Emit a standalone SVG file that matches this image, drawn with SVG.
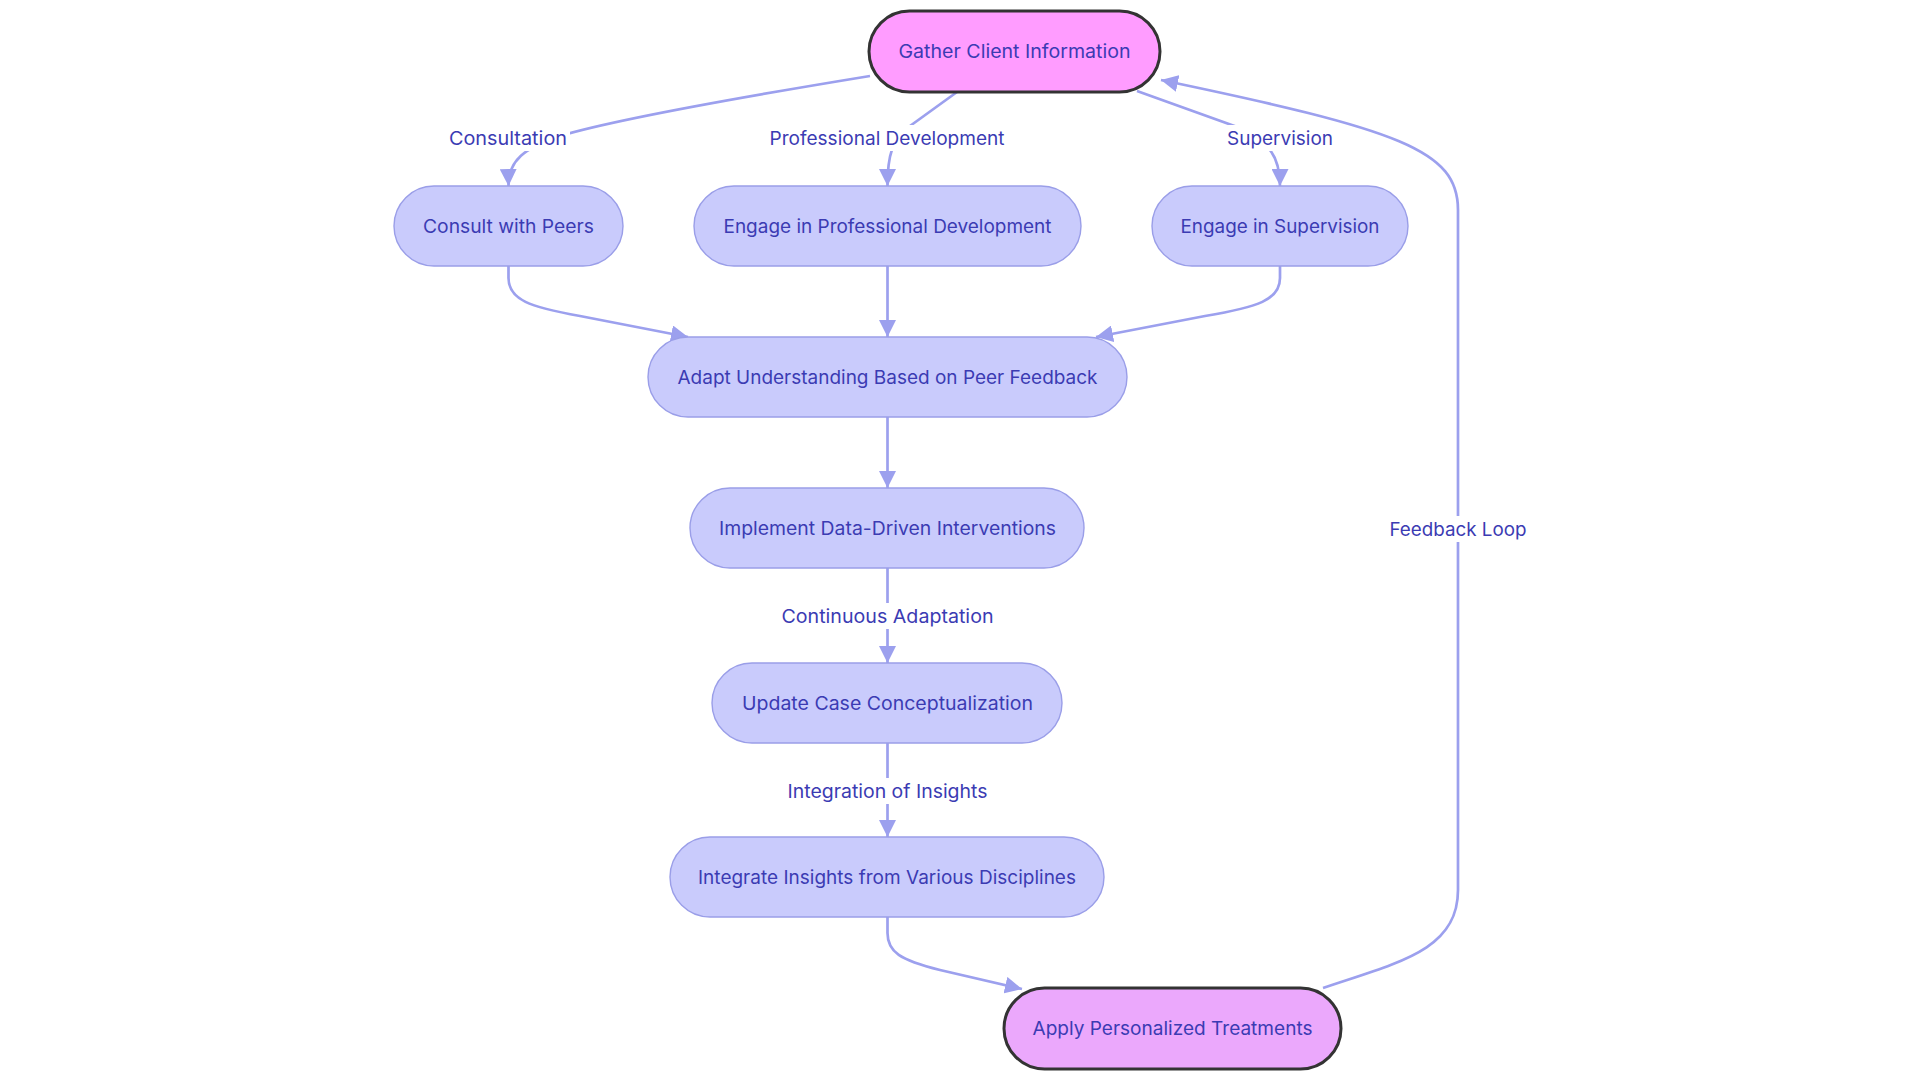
<svg xmlns="http://www.w3.org/2000/svg" width="1920" height="1080" viewBox="0 0 1920 1080">
<style>
.node rect{fill:#C9CBFC;stroke:#9A9EE8;stroke-width:1.4}
.node.start rect{fill:#FF9CFF;stroke:#333333;stroke-width:3}
.node.end rect{fill:#EBA8FC;stroke:#333333;stroke-width:3}
text{font-family:Inter,"Noto Sans","Liberation Sans",sans-serif;font-size:18.5px;fill:#3B3BB3;text-anchor:middle}
.edge{fill:none;stroke:#9CA0EE;stroke-width:2.7}
.lbl rect{fill:#FFFFFF}
</style>
<defs>
<marker id="arrow" viewBox="0 0 10 10" refX="10" refY="5" markerUnits="userSpaceOnUse" markerWidth="17" markerHeight="17" orient="auto">
<path d="M0,0 L10,5 L0,10 z" fill="#9CA0EE"/>
</marker>
</defs>
<rect width="1920" height="1080" fill="#FFFFFF"/>
<g id="connectors">
<path class="edge" d="M870,76 C760,94 620,118 560,136 C525,148 508,160 508.5,186" marker-end="url(#arrow)"/>
<path class="edge" d="M957,92 L910,126 C892,140 887.5,155 887.5,186" marker-end="url(#arrow)"/>
<path class="edge" d="M1137,91 L1240,128 C1268,142 1280,155 1280,186" marker-end="url(#arrow)"/>
<path class="edge" d="M508.5,266 L508.5,278 C508.5,300 530,307 580,316 L688,337" marker-end="url(#arrow)"/>
<path class="edge" d="M887.5,266 L887.5,337" marker-end="url(#arrow)"/>
<path class="edge" d="M1280,266 L1280,278 C1280,300 1258,307 1205,316 L1096,337" marker-end="url(#arrow)"/>
<path class="edge" d="M887.5,417 L887.5,488" marker-end="url(#arrow)"/>
<path class="edge" d="M887.5,568 L887.5,663" marker-end="url(#arrow)"/>
<path class="edge" d="M887.5,743 L887.5,837" marker-end="url(#arrow)"/>
<path class="edge" d="M887.5,917 L887.5,933 C887.5,952 900,960 940,970 L1022,989" marker-end="url(#arrow)"/>
<path class="edge" d="M1323,988 C1400,962 1458,950 1458,890 L1458,210 C1458,150 1400,130 1161,80" marker-end="url(#arrow)"/>
<g class="lbl">
<rect x="446" y="125" width="124" height="26"/>
<text x="508" y="144.5" textLength="118" lengthAdjust="spacingAndGlyphs">Consultation</text>
<rect x="766" y="125" width="242" height="26"/>
<text x="887" y="144.5" textLength="235" lengthAdjust="spacingAndGlyphs">Professional Development</text>
<rect x="1224" y="125" width="112" height="26"/>
<text x="1280" y="144.5" textLength="106" lengthAdjust="spacingAndGlyphs">Supervision</text>
<rect x="778" y="603" width="219" height="26"/>
<text x="887.5" y="622.5" textLength="212" lengthAdjust="spacingAndGlyphs">Continuous Adaptation</text>
<rect x="784" y="778" width="207" height="26"/>
<text x="887.5" y="797.5" textLength="200" lengthAdjust="spacingAndGlyphs">Integration of Insights</text>
<rect x="1386" y="516" width="144" height="26"/>
<text x="1458" y="535.5" textLength="137" lengthAdjust="spacingAndGlyphs">Feedback Loop</text>
</g>
</g>
<g id="gather" class="node start">
<rect x="869" y="11" width="291" height="81" rx="40.5" ry="40.5"/>
<text x="1014.5" y="58" textLength="232" lengthAdjust="spacingAndGlyphs">Gather Client Information</text>
</g>
<g id="consult" class="node">
<rect x="394" y="186" width="229" height="80" rx="40" ry="40"/>
<text x="508.5" y="232.5" textLength="171" lengthAdjust="spacingAndGlyphs">Consult with Peers</text>
</g>
<g id="profdev" class="node">
<rect x="694" y="186" width="387" height="80" rx="40" ry="40"/>
<text x="887.5" y="232.5" textLength="328" lengthAdjust="spacingAndGlyphs">Engage in Professional Development</text>
</g>
<g id="supervision" class="node">
<rect x="1152" y="186" width="256" height="80" rx="40" ry="40"/>
<text x="1280" y="232.5" textLength="199" lengthAdjust="spacingAndGlyphs">Engage in Supervision</text>
</g>
<g id="adapt" class="node">
<rect x="648" y="337" width="479" height="80" rx="40" ry="40"/>
<text x="887.5" y="383.5" textLength="420" lengthAdjust="spacingAndGlyphs">Adapt Understanding Based on Peer Feedback</text>
</g>
<g id="implement" class="node">
<rect x="690" y="488" width="394" height="80" rx="40" ry="40"/>
<text x="887.5" y="534.5" textLength="337" lengthAdjust="spacingAndGlyphs">Implement Data-Driven Interventions</text>
</g>
<g id="update" class="node">
<rect x="712" y="663" width="350" height="80" rx="40" ry="40"/>
<text x="887.5" y="709.5" textLength="291" lengthAdjust="spacingAndGlyphs">Update Case Conceptualization</text>
</g>
<g id="integrate" class="node">
<rect x="670" y="837" width="434" height="80" rx="40" ry="40"/>
<text x="887" y="883.5" textLength="378" lengthAdjust="spacingAndGlyphs">Integrate Insights from Various Disciplines</text>
</g>
<g id="apply" class="node end">
<rect x="1004" y="988" width="337" height="81" rx="40.5" ry="40.5"/>
<text x="1172.5" y="1035" textLength="280" lengthAdjust="spacingAndGlyphs">Apply Personalized Treatments</text>
</g>
</svg>
